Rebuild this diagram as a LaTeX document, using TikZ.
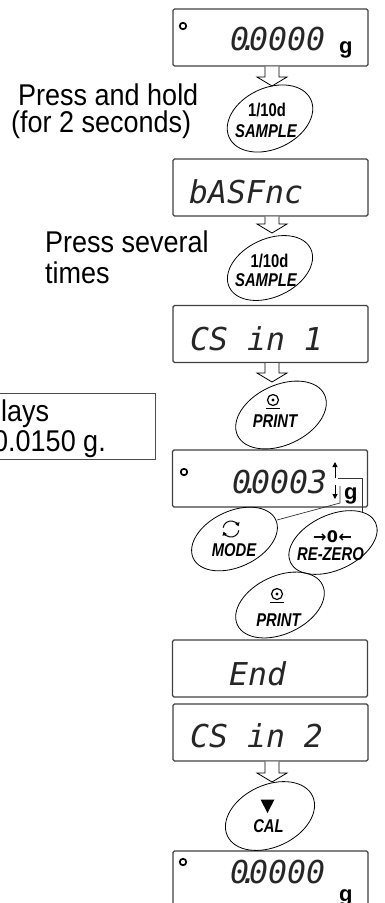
\documentclass[tikz,border=0pt]{standalone}
\usepackage{fontspec}
\setmainfont{Liberation Sans}
\newfontfamily\lblfont[FakeStretch=0.9]{Liberation Sans}
\newfontfamily\segfont{DejaVu Sans Mono}
\newfontfamily\btnfont[FakeStretch=0.8]{Liberation Sans}
\newfontfamily\symfont{DejaVu Sans}
\usetikzlibrary{shapes.geometric,calc,arrows.meta}
\tikzset{
 disp/.style={draw=black!75, line width=1.1pt, rounded corners=1.5pt, minimum width=195pt, minimum height=57pt, inner sep=0pt},
 seg/.style={anchor=base west, inner sep=0pt, text=black!85, font=\segfont\itshape\fontsize{31.5}{31.5}\selectfont},
 unitg/.style={anchor=base west, inner sep=0pt, font=\bfseries\fontsize{22}{22}\selectfont},
 btn/.style={draw, ellipse, line width=0.8pt, inner sep=0pt, rotate=25},
 btntxt/.style={inner sep=0pt, font=\btnfont\bfseries\itshape\fontsize{18.5}{18.5}\selectfont},
 btnnum/.style={inner sep=0pt, font=\btnfont\bfseries\fontsize{18.5}{18.5}\selectfont},
 lbl/.style={anchor=base west, inner sep=0pt, font=\lblfont\fontsize{30}{30}\selectfont},
 barrow/.style={draw, line width=0.8pt, fill=white, line join=miter},
 ring/.style={draw, circle, line width=1.7pt, minimum size=6.5pt, inner sep=0pt},
 leader/.style={draw=black!80, line width=0.7pt},
 updown/.style={line width=1pt, -{Triangle[length=5pt,width=5pt]}},
}
\newcommand\blockarr[2]{\draw[barrow] let \p1=(#1), \p2=(#2) in
  (\x2-7pt,\y1) -- (\x2-7pt,\y2+9pt) -- (\x2-15pt,\y2+9pt) -- (\x2,\y2)
  -- (\x2+15pt,\y2+9pt) -- (\x2+7pt,\y2+9pt) -- (\x2+7pt,\y1);}
\newcommand\printsym[1]{%
  \draw[line width=1.2pt] (#1) circle[radius=5.5pt];
  \fill (#1) circle[radius=1.6pt];
  \draw[line width=1.8pt] ($(#1)+(-7,8.5)$) -- ($(#1)+(7,8.5)$);}
\begin{document}
\begin{tikzpicture}[x=1pt,y=-1pt]
\useasboundingbox (0,0) rectangle (384,903);
\clip (0,0) rectangle (384,903);

% left labels
\node[lbl] (l1a) at (18,105) {Press and hold};
\node[lbl] (l1b) at (11,132) {(for 2 seconds)};
\node[lbl] (l2a) at (45,252) {Press several};
\node[lbl] (l2b) at (45,283) {times};
\node[draw=black!70, line width=0.8pt, minimum width=175pt, minimum height=66pt, inner sep=0pt] (note) at (67.5,426.5) {};
\node[lbl] (n1) at (1,421) {lays};
\node[lbl] (n2) at (-7,451) {0.0150 g.};

% displays
\node[disp] (d1) at (270.5,37.5) {};
\node[ring] (r1) at (183,26) {};
\node[seg] (t1) at (230,50) {0\kern-9.5pt.\kern-9.5pt0000};
\node[unitg] (g1) at (339,53) {g};

\node[disp] (d2) at (270.5,187.5) {};
\node[seg] (t2) at (189,203) {bASFnc};

\node[disp] (d3) at (270.5,334) {};
\node[seg] (t3) at (190,350) {CS in 1};

\node[disp] (d4) at (270,478.5) {};
\node[ring] (r4) at (184,472) {};
\node[seg] (t4) at (232,493) {0\kern-9.5pt.\kern-9.5pt0003};
\node[unitg] (g4) at (344,499) {g};
\coordinate (upb) at (335,478);
\coordinate (upt) at (335,462);
\coordinate (dnb) at (335,485);
\coordinate (dnt) at (335,499);
\draw[updown] (upb) -- (upt);
\draw[updown] (dnb) -- (dnt);

\node[disp] (d5) at (270,668.5) {};
\node[seg] (t5) at (229,685) {End};

\node[disp] (d6) at (270.5,732.5) {};
\node[seg] (t6) at (190,747) {CS in 2};

\node[disp] (d7) at (270.5,879.5) {};
\node[ring] (r7) at (183,862) {};
\node[seg] (t7) at (230,883) {0\kern-9.5pt.\kern-9.5pt0000};
\node[unitg] (g7) at (339,901) {g};

% buttons
\node[btn, minimum width=90pt, minimum height=61pt] (b1) at (270,118.5) {};
\node[btnnum] (b1a) at (267,110) {1/10d};
\node[btntxt] (b1b) at (266,131) {SAMPLE};

\node[btn, minimum width=90pt, minimum height=58pt] (b2) at (270,268) {};
\node[btnnum] (b2a) at (269.5,261) {1/10d};
\node[btntxt] (b2b) at (266,280) {SAMPLE};

\node[btn, minimum width=96pt, minimum height=60pt] (b3) at (281,415) {};
\coordinate (p3) at (273,400);
\printsym{p3}
\node[btntxt] (b3a) at (275,421) {PRINT};

\node[btn, minimum width=91pt, minimum height=56pt] (bm) at (234.5,539) {};
\coordinate (mc) at (231,529);
\draw[line width=1pt, -{Triangle[length=3.5pt,width=4.5pt]}] (mc) ++(190:8) arc[start angle=190, end angle=340, radius=8];
\draw[line width=1pt, -{Triangle[length=3.5pt,width=4.5pt]}] (mc) ++(10:8) arc[start angle=10, end angle=160, radius=8];
\node[btntxt] (bma) at (234,550) {MODE};

\node[btn, minimum width=94pt, minimum height=55pt] (bz) at (333,542.5) {};
\node[inner sep=0pt, font=\symfont\bfseries\fontsize{16}{16}\selectfont] (bzs) at (332.5,536.5) {→\kern0.5pt0\kern0.5pt←};
\node[btntxt] (bza) at (330.5,554) {RE-ZERO};

\node[btn, minimum width=94pt, minimum height=58pt] (b4) at (280,605) {};
\coordinate (p4) at (277,594);
\printsym{p4}
\node[btntxt] (b4a) at (278.5,620) {PRINT};

\node[btn, minimum width=94pt, minimum height=62pt] (bc) at (270,816) {};
\fill (260.5,799.5) -- (274.5,799.5) -- (267.5,813) -- cycle;
\node[btntxt] (bca) at (268.5,826.5) {CAL};

% leaders
\coordinate (lz1) at (362,512);
\coordinate (lz2) at (362,478);
\coordinate (lz3) at (338,478);
\draw[leader] (lz1) -- (lz2) -- (lz3);
\coordinate (lm1) at (277,520);
\coordinate (lm2) at (340,503);
\coordinate (lm3) at (340,486);
\draw[leader] (lm1) -- (lm2) -- (lm3);

% block arrows
\coordinate (a1) at (272,86);
\coordinate (a2) at (272,233);
\coordinate (a3) at (272,382);
\coordinate (a4) at (272,782);
\blockarr{d1.south}{a1}
\blockarr{d2.south}{a2}
\blockarr{d3.south}{a3}
\blockarr{d6.south}{a4}
\end{tikzpicture}
\end{document}
